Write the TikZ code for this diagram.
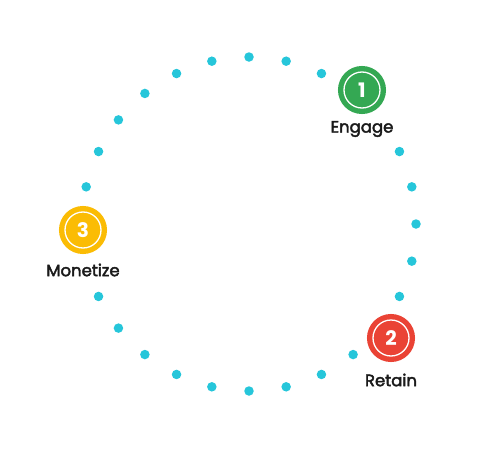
\documentclass[tikz,border=0pt]{standalone}
\usepackage{fontspec}
\setmainfont{Poppins}
\newfontfamily\medfont{Poppins}[FakeBold=2.5]
\usetikzlibrary{positioning}
\definecolor{dotcyan}{HTML}{26C6DA}
\definecolor{stepgreen}{HTML}{34A853}
\definecolor{stepred}{HTML}{EA4335}
\definecolor{stepyellow}{HTML}{FBBC04}
\definecolor{inkblack}{HTML}{1A1A1A}

\begin{document}
\begin{tikzpicture}[x=1pt,y=-1pt,font=\fontsize{16.5}{19}\medfont,
   d/.style={circle,fill=dotcyan,inner sep=0pt,minimum size=9.5pt},
   b/.style={circle,fill=#1,draw=white,line width=1.3pt,minimum size=36pt,inner sep=0pt,
             preaction={draw=white,line width=26pt},
             preaction={draw=#1,line width=12pt},text=white,
             font=\fontsize{20}{22}\selectfont\bfseries},
   l/.style={fill=white,inner sep=6pt,text=inkblack}]
  \useasboundingbox (0,0) rectangle (499,450);
  % ring of dots
  \foreach \i in {0,...,27}
    \node[d] (d\i) at ({249+167*cos(90-\i*360/28)},{224-167*sin(90-\i*360/28)}) {};
  % steps
  \node[b=stepgreen] (s1) at (362,90) {1};
  \node[l] (t1) at (362,129) {Engage};
  \node[b=stepred] (s2) at (391,338) {2};
  \node[l] (t2) at (391,380) {Retain};
  \node[b=stepyellow] (s3) at (83,230) {3};
  \node[l] (t3) at (83,270) {Monetize};
\end{tikzpicture}
\end{document}
